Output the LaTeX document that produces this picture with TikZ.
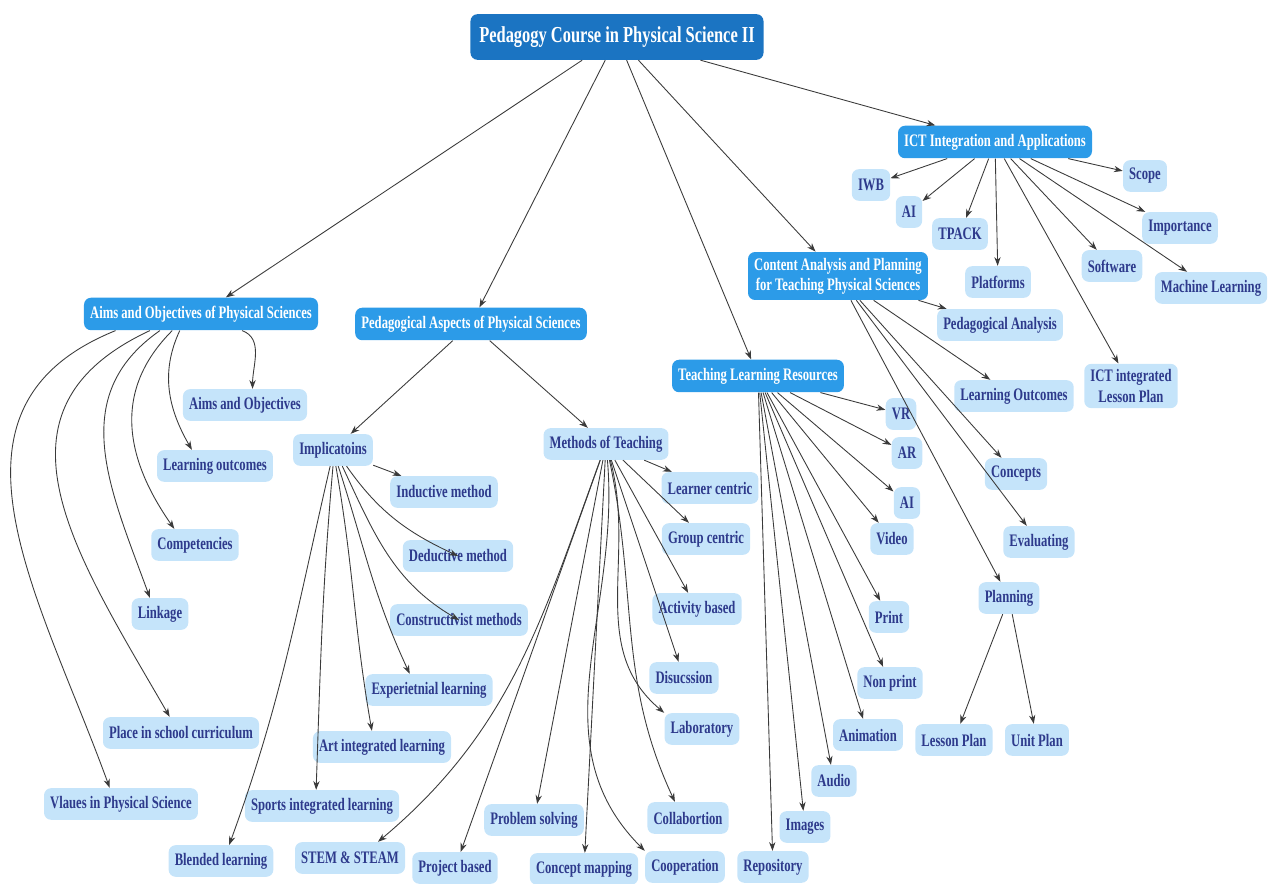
\documentclass[tikz,border=0pt]{standalone}
\usepackage{fontspec}
\setmainfont{Liberation Serif}[FakeStretch=0.72]
\usetikzlibrary{arrows.meta}

\definecolor{rootblue}{HTML}{1B74C2}
\definecolor{mainblue}{HTML}{2C9BE8}
\definecolor{subblue}{HTML}{C5E4FA}
\definecolor{subtext}{HTML}{2E3A8C}
\definecolor{linkgray}{HTML}{3A3A3A}

\begin{document}
\begin{tikzpicture}[x=0.02cm,y=0.02cm,>={Stealth[length=5pt,width=3.6pt]},
  rootbox/.style={fill=rootblue,text=white,rounded corners=4pt,font=\fontsize{13}{15}\selectfont\bfseries,inner xsep=5pt,minimum height=26pt},
  mainbox/.style={fill=mainblue,text=white,rounded corners=4pt,font=\fontsize{10}{11.5}\selectfont\bfseries,inner xsep=3.5pt,minimum height=18.5pt,align=center},
  subbox/.style={fill=subblue,text=subtext,rounded corners=4pt,font=\fontsize{10}{11.5}\selectfont\bfseries,inner xsep=3.5pt,minimum height=18pt,align=center},
  link/.style={->,draw=linkgray,line width=0.5pt}]
  \useasboundingbox (0,0) rectangle (1269,-884);

  % root and main branches
  \node[rootbox] (root) at (617,-37) {Pedagogy Course in Physical Science II};
  \node[mainbox] (aims) at (201,-314) {Aims and Objectives of Physical Sciences};
  \node[mainbox] (pedasp) at (471,-324) {Pedagogical Aspects of Physical Sciences};
  \node[mainbox] (tlr) at (758,-376) {Teaching Learning Resources};
  \node[mainbox] (content) at (838,-276) {Content Analysis and Planning\\for Teaching Physical Sciences};
  \node[mainbox] (ict) at (995,-142) {ICT Integration and Applications};

  % aims
  \node[subbox] (aimsobj) at (245,-405) {Aims and Objectives};
  \node[subbox] (lrnout) at (215,-466) {Learning outcomes};
  \node[subbox] (compet) at (195,-545) {Competencies};
  \node[subbox] (linkage) at (160,-614) {Linkage};
  \node[subbox] (place) at (181,-733) {Place in school curriculum};
  \node[subbox] (values) at (121,-804) {Vlaues in Physical Science};

  % pedagogical aspects
  \node[subbox] (impl) at (333,-450) {Implicatoins};
  \node[subbox] (methods) at (606,-444) {Methods of Teaching};
  \node[subbox] (induct) at (444,-492) {Inductive method};
  \node[subbox] (deduct) at (458,-556) {Deductive method};
  \node[subbox] (constr) at (459,-620) {Constructivist methods};
  \node[subbox] (exper) at (429,-690) {Experietnial learning};
  \node[subbox] (artint) at (382,-747) {Art integrated learning};
  \node[subbox] (sports) at (322,-806) {Sports integrated learning};
  \node[subbox] (blended) at (221,-861) {Blended learning};
  \node[subbox] (learner) at (710,-488) {Learner centric};
  \node[subbox] (group) at (706,-539) {Group centric};
  \node[subbox] (activity) at (697,-609) {Activity based};
  \node[subbox] (discuss) at (684,-678) {Disucssion};
  \node[subbox] (lab) at (702,-729) {Laboratory};
  \node[subbox] (collab) at (688,-818) {Collabortion};
  \node[subbox] (coop) at (685,-867) {Cooperation};
  \node[subbox] (conmap) at (584,-869) {Concept mapping};
  \node[subbox] (problem) at (534,-820) {Problem solving};
  \node[subbox] (project) at (455,-868) {Project based};
  \node[subbox] (stem) at (350,-858) {STEM \& STEAM};

  % teaching learning resources
  \node[subbox] (vr) at (901,-414) {VR};
  \node[subbox] (ar) at (907,-453) {AR};
  \node[subbox] (aires) at (907,-503) {AI};
  \node[subbox] (video) at (892,-539) {Video};
  \node[subbox] (print) at (889,-617) {Print};
  \node[subbox] (nonprint) at (890,-683) {Non print};
  \node[subbox] (anim) at (868,-735) {Animation};
  \node[subbox] (audio) at (834,-781) {Audio};
  \node[subbox] (images) at (805,-827) {Images};
  \node[subbox] (repo) at (773,-867) {Repository};

  % content analysis
  \node[subbox] (pedana) at (1000,-325) {Pedagogical Analysis};
  \node[subbox] (lrnoutc) at (1014,-396) {Learning Outcomes};
  \node[subbox] (concepts) at (1016,-474) {Concepts};
  \node[subbox] (evaluat) at (1039,-542) {Evaluating};
  \node[subbox] (planning) at (1009,-598) {Planning};
  \node[subbox] (lesson) at (954,-740) {Lesson Plan};
  \node[subbox] (unit) at (1037,-740) {Unit Plan};

  % ict
  \node[subbox] (iwb) at (871,-185) {IWB};
  \node[subbox] (aiict) at (909,-212) {AI};
  \node[subbox] (tpack) at (960,-234) {TPACK};
  \node[subbox] (platf) at (998,-282) {Platforms};
  \node[subbox] (softw) at (1112,-266) {Software};
  \node[subbox] (mlearn) at (1211,-288) {Machine Learning};
  \node[subbox] (import) at (1180,-228) {Importance};
  \node[subbox] (scope) at (1145,-176) {Scope};
  \node[subbox] (ictlp) at (1131,-386) {ICT integrated\\Lesson Plan};

  % connectors
  \foreach \t in {aims,pedasp,tlr,content,ict} \draw[link] (root) -- (\t);
  \draw[link] (pedasp) -- (impl);
  \draw[link] (pedasp) -- (methods);

  \draw[link] (aims.-22) to[out=-20,in=90] (aimsobj.65);
  \draw[link] (aims.-142) to[out=-115,in=120] (lrnout.145);
  \draw[link] (aims.-150) to[out=-135,in=125,looseness=1.1] (compet.142);
  \draw[link] (aims.-158) to[out=-145,in=110,looseness=1.1] (linkage.122);
  \draw[link] (aims.-162) to[out=-155,in=120,looseness=1.25] (place.125);
  \draw[link] (aims.-169) to[out=-158,in=110,looseness=1.15] (values.125);

  \draw[link] (impl) -- (induct);
  \draw[link] (impl.-50) to[out=-55,in=155] (deduct.center);
  \draw[link] (impl.-60) to[out=-65,in=150] (constr.center);
  \draw[link] (impl.-72) to[out=-72,in=115] (exper.140);
  \draw[link] (impl.-80) to[out=-80,in=100] (artint.122);
  \draw[link] (impl.-90) to[out=-95,in=88] (sports.110);
  \draw[link] (impl.-100) to[out=-103,in=70] (blended.63);

  \foreach \t in {learner,group,activity,discuss,conmap,problem,project} \draw[link] (methods) -- (\t);
  \draw[link] (methods) to[out=-75,in=140] (lab.north west);
  \draw[link] (methods) to[out=-78,in=115] (collab.129);
  \draw[link] (methods) to[out=-85,in=135] (coop.north west);
  \draw[link] (methods) to[out=-110,in=40] (stem.30);

  \foreach \t in {vr,ar,aires,video,print,nonprint,anim,audio,images,repo} \draw[link] (tlr) -- (\t);
  \foreach \t in {pedana,lrnoutc,concepts,evaluat,planning} \draw[link] (content) -- (\t);
  \draw[link] (planning) -- (lesson);
  \draw[link] (planning) -- (unit);
  \foreach \t in {iwb,aiict,tpack,platf,softw,mlearn,import,scope,ictlp} \draw[link] (ict) -- (\t);
\end{tikzpicture}
\end{document}
